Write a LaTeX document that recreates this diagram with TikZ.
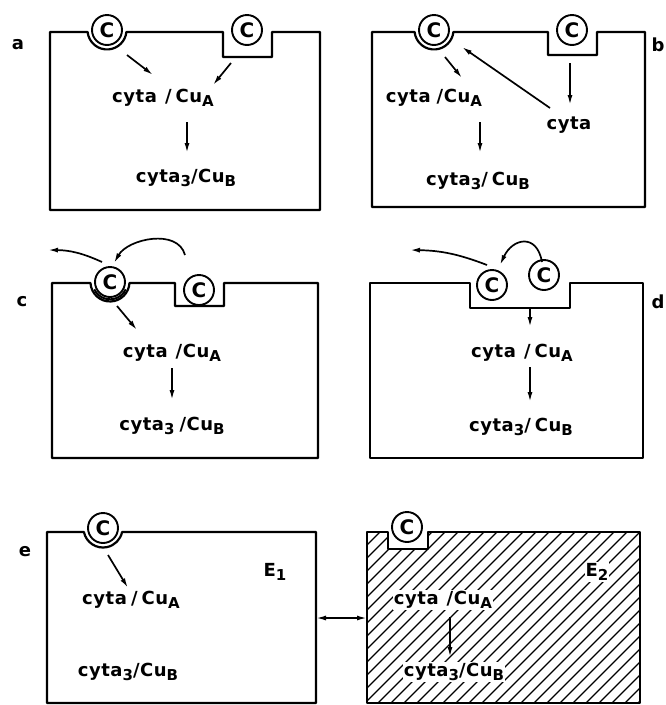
\documentclass[tikz,border=0pt]{standalone}
\usepackage{fontspec}
\setmainfont{DejaVu Sans}
\newfontfamily\labfont[LetterSpace=3]{DejaVu Sans}
\usepackage{tikz}
\usetikzlibrary{arrows.meta}
\newcommand{\lowidx}[1]{\raisebox{-0.4ex}{\fontsize{15}{15}\selectfont #1}}

\begin{document}
\begin{tikzpicture}[x=1pt, y=1pt,
    box/.style={line width=2.2pt, line join=round},
    cyt/.style={circle, draw, line width=1.9pt, minimum size=30pt, inner sep=0pt, font=\bfseries\fontsize{20}{20}\selectfont},
    lab/.style={inner sep=1pt, font={\labfont\bfseries\fontsize{18}{22}\selectfont}},
    tag/.style={inner sep=1pt, font={\labfont\bfseries\fontsize{18}{22}\selectfont}},
    hatch/.style={line width=1.3pt},
    arr/.style={-{Latex[length=10pt,width=5pt]}, line width=1.7pt},
    darr/.style={{Latex[length=10pt,width=5pt]}-{Latex[length=10pt,width=5pt]}, line width=1.7pt}
]
\useasboundingbox (0,0) rectangle (665,-705);

% a
\draw[box] (50,-32) -- (87.6,-32) arc[start angle=186, end angle=354, radius=19.5] -- (223,-32) -- (223,-57) -- (272,-57) -- (272,-32) -- (320,-32) -- (320,-210) -- (50,-210) -- cycle;
\node[cyt] (ac1) at (107,-30) {C};
\node[cyt] (ac2) at (247,-30) {C};
\node[lab] (acu) at (163,-98) {cyta\hspace{8pt}/\hspace{4pt}Cu\lowidx{A}};
\node[lab] (acu3) at (186,-178) {cyta\lowidx{3}/Cu\lowidx{B}};
\node[tag] (ta) at (18,-45) {a};
\draw[arr] ([shift={(20,-25)}]ac1.center) -- ([shift={(-10,23)}]acu.center);
\draw[arr] ([shift={(-16,-33)}]ac2.center) -- ([shift={(50,13)}]acu.center);
\draw[arr] ([shift={(24,-24)}]acu.center) -- ([shift={(1,25)}]acu3.center);

% b
\draw[box] (372,-32) -- (414.6,-32) arc[start angle=186, end angle=354, radius=19.5] -- (548,-32) -- (548,-55) -- (597,-55) -- (597,-32) -- (645,-32) -- (645,-207) -- (372,-207) -- cycle;
\node[cyt] (bc1) at (434,-30) {C};
\node[cyt] (bc2) at (572,-30) {C};
\node[lab] (bcu) at (434,-98) {cyta\hspace{6pt}/Cu\lowidx{A}};
\node[lab] (bcyta) at (569,-125) {cyta};
\node[lab] (bcu3) at (478,-181) {cyta\lowidx{3}/\hspace{4pt}Cu\lowidx{B}};
\node[tag] (tb) at (658,-45) {b};
\draw[arr] ([shift={(11,-27)}]bc1.center) -- ([shift={(28,20)}]bcu.center);
\draw[arr] ([shift={(-19,17)}]bcyta.center) -- ([shift={(28,-17)}]bc1.center);
\draw[arr] ([shift={(-2,-33)}]bc2.center) -- ([shift={(1,20)}]bcyta.center);
\draw[arr] ([shift={(46,-24)}]bcu.center) -- ([shift={(2,28)}]bcu3.center);

% c
\draw[box] (52,-283) -- (90.5,-283) arc[start angle=183, end angle=357, radius=19.5] -- (175,-283) -- (175,-306) -- (224,-306) -- (224,-283) -- (318,-283) -- (318,-458) -- (52,-458) -- cycle;
\node[cyt] (cc1) at (110,-282) {C};
\node[cyt] (cc2) at (199,-290) {C};
\draw[line width=2pt] ([shift={(205:17.3)}]cc1.center) arc[start angle=205, end angle=335, radius=17.3];
\node[lab] (ccu) at (172,-353) {cyta\hspace{8pt}/Cu\lowidx{A}};
\node[lab] (ccu3) at (172,-426) {cyta\lowidx{3}\hspace{5pt}/Cu\lowidx{B}};
\node[tag] (tc) at (22,-302) {c};
\draw[arr] ([shift={(-14,35)}]cc2.center) to[out=105, in=60] ([shift={(4,19)}]cc1.center);
\draw[arr] ([shift={(-8,20)}]cc1.center) to[bend right=12] ([shift={(-62,32)}]cc1.center);
\draw[arr] ([shift={(7,-24)}]cc1.center) -- ([shift={(-35,23)}]ccu.center);
\draw[arr] ([shift={(0,-15)}]ccu.center) -- ([shift={(0,26)}]ccu3.center);

% d
\draw[box] (370,-283) -- (470,-283) -- (470,-308) -- (570,-308) -- (570,-283) -- (643,-283) -- (643,-458) -- (370,-458) -- cycle;
\node[cyt] (dc1) at (492,-285) {C};
\node[cyt] (dc2) at (544,-275) {C};
\node[lab] (dcu) at (522,-353) {cyta\hspace{8pt}/\hspace{4pt}Cu\lowidx{A}};
\node[lab] (dcu3) at (521,-427) {cyta\lowidx{3}/\hspace{4pt}Cu\lowidx{B}};
\node[tag] (td) at (658,-302) {d};
\coordinate (dn) at (530,-309);
\draw[arr] ([shift={(-2,13)}]dc2.center) to[out=100, in=65, looseness=1.8] ([shift={(8,20)}]dc1.center);
\draw[arr] ([shift={(-5,20)}]dc1.center) to[bend right=10] ([shift={(-82,35)}]dc1.center);
\draw[arr] (dn) -- ([shift={(8,26)}]dcu.center);
\draw[arr] ([shift={(8,-14)}]dcu.center) -- ([shift={(9,25)}]dcu3.center);

% e
\draw[box] (47,-532) -- (83.9,-532) arc[start angle=191.8, end angle=348.2, radius=19.5] -- (316,-532) -- (316,-703) -- (47,-703) -- cycle;
\node[cyt] (ec) at (103,-528) {C};
\node[lab] (ecu) at (131,-600) {cyta\hspace{4pt}/\hspace{4pt}Cu\lowidx{A}};
\node[lab] (ecu3) at (128,-672) {cyta\lowidx{3}/Cu\lowidx{B}};
\node[lab] (e1lab) at (275,-572) {E\lowidx{1}};
\node[tag] (te) at (25,-552) {e};
\draw[arr] ([shift={(5,-27)}]ec.center) -- ([shift={(-3,12)}]ecu.center);

\begin{scope}
  \clip (367,-532) -- (388,-532) -- (388,-549) -- (428,-549) -- (428,-532) -- (640,-532) -- (640,-703) -- (367,-703) -- cycle;
  \foreach \k in {0,...,34}
    \draw[hatch] (196+13*\k,-703) -- ++(180,180);
\end{scope}
\draw[box] (367,-532) -- (388,-532) -- (388,-549) -- (428,-549) -- (428,-532) -- (640,-532) -- (640,-703) -- (367,-703) -- cycle;
\node[cyt] (e2c) at (407,-527) {C};
\node[lab, fill=white] (e2cu) at (443,-600) {cyta\hspace{8pt}/Cu\lowidx{A}};
\node[lab, fill=white] (e2cu3) at (454,-672) {cyta\lowidx{3}/Cu\lowidx{B}};
\node[lab, fill=white] (e2lab) at (597,-572) {E\lowidx{2}};
\draw[arr] ([shift={(7,-17)}]e2cu.center) -- ([shift={(-4,15)}]e2cu3.center);

\coordinate (e1r) at (316,-618);
\coordinate (e2l) at (367,-618);
\draw[darr] (e1r) -- (e2l);
\end{tikzpicture}
\end{document}
